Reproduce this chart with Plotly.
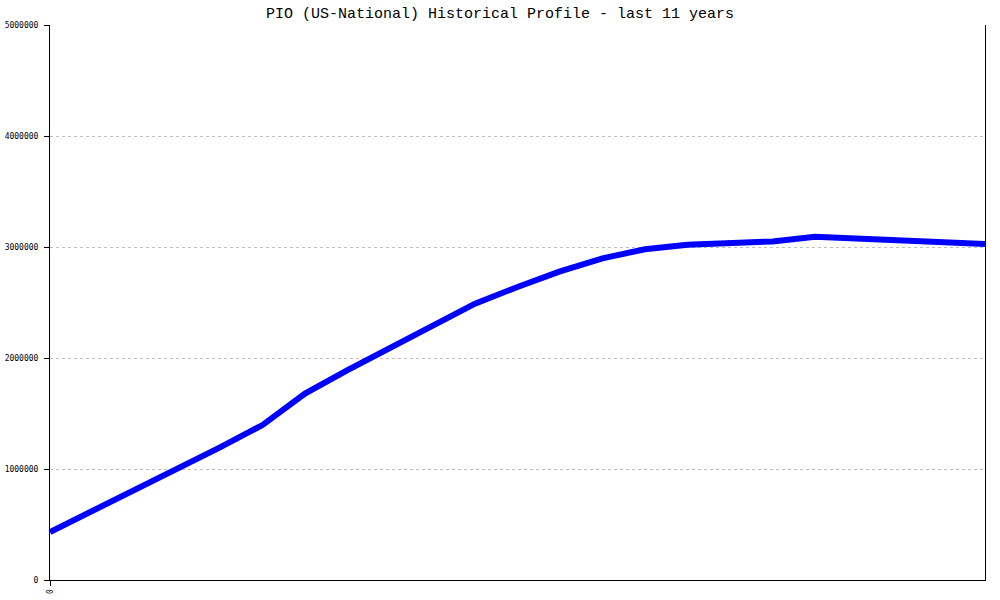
import plotly.graph_objs as go

# semiannual points over the last 11 years
periods = list(range(23))
population = [432000, 620000, 810000, 1000000, 1195000, 1396000, 1680000, 1890000,
              2085000, 2280000, 2490000, 2640000, 2780000, 2898000, 2980000, 3020000,
              3036000, 3050000, 3093000, 3078000, 3057000, 3042000, 3027000]

y_ticks = [0, 1000000, 2000000, 3000000, 4000000, 5000000]
y_labels = [str(v) for v in y_ticks]
x_ticks = [0]
x_labels = ['0']

title = 'PIO (US-National) Historical Profile - last 11 years'

fig = go.Figure()
fig.add_trace(
    go.Scatter(x=periods, y=population, mode='lines', name='PIO',
               line=dict(color='#0000FF', width=6)))

fig.update_layout(width=1000, height=600,
                  plot_bgcolor='#FFFFFF',
                  paper_bgcolor='#FFFFFF',
                  showlegend=False,
                  title=dict(text=title, x=0.5, xanchor='center', y=1 - 13 / 600, yanchor='middle',
                             font=dict(family='Liberation Mono', size=15, color='#000000')),
                  margin=dict(l=50, r=15, t=25, b=20),
                  xaxis=dict(range=[0, 22], tickvals=x_ticks, ticktext=x_labels, automargin=False,
                             tickangle=-90, ticks='outside', ticklen=5, tickcolor='#000000',
                             showgrid=False, zeroline=False,
                             showline=True, linecolor='#000000', linewidth=1,
                             tickfont=dict(family='DejaVu Sans Mono', size=8, color='#000000')),
                  yaxis=dict(range=[0, 5000000], tickvals=y_ticks, ticktext=y_labels, automargin=False,
                             ticks='outside', ticklen=5, tickcolor='#000000', ticklabelstandoff=4,
                             showgrid=True, gridcolor='#C0C0C0', griddash='dot', gridwidth=1,
                             zeroline=False, showline=True, linecolor='#000000', linewidth=1,
                             mirror=True,
                             tickfont=dict(family='DejaVu Sans Mono', size=8, color='#000000')))

# drop the default page margin so the chart sits at the window's corner
fig.write_html("out.html", config={'displayModeBar': False},
               post_script="document.body.style.margin = '0';")
